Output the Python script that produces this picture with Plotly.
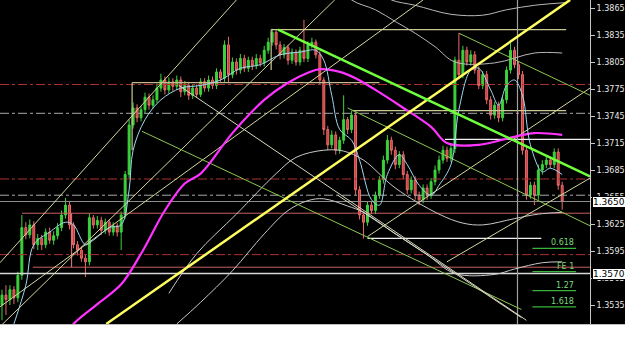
import plotly.graph_objects as go

# ---------------- candle data (bar index 0..141) ----------------
opens = [
 1.3535,1.3546,1.3541,1.3552,1.3543,1.3568,1.3621,1.3613,1.3624,1.3602,
 1.3609,1.3602,1.3616,1.3607,1.3612,1.3621,1.3635,1.3646,1.3624,1.3602,
 1.3596,1.3587,1.3583,1.3632,1.3624,1.3629,1.3618,1.3627,1.3616,1.3623,
 1.3616,1.3635,1.3680,1.3735,1.3754,1.3743,1.3752,1.3766,1.3757,1.3763,
 1.3776,1.3785,1.3774,1.3783,1.3778,1.3785,1.3772,1.3779,1.3768,1.3776,
 1.3769,1.3783,1.3776,1.3785,1.3779,1.3794,1.3787,1.3824,1.3791,1.3805,
 1.3796,1.3809,1.3798,1.3807,1.3801,1.3809,1.3804,1.3818,1.3827,1.3838,
 1.3824,1.3813,1.3821,1.3807,1.3816,1.3805,1.3818,1.3809,1.3824,1.3827,
 1.3813,1.3785,1.3730,1.3713,1.3724,1.3707,1.3718,1.3741,1.3730,1.3746,
 1.3663,1.3635,1.3627,1.3646,1.3640,1.3657,1.3674,1.3696,1.3718,1.3707,
 1.3691,1.3702,1.3680,1.3663,1.3674,1.3657,1.3652,1.3665,1.3657,1.3672,
 1.3685,1.3696,1.3707,1.3698,1.3709,1.3807,1.3791,1.3818,1.3805,1.3813,
 1.3796,1.3779,1.3791,1.3763,1.3746,1.3757,1.3743,1.3763,1.3796,1.3818,
 1.3802,1.3791,1.3707,1.3657,1.3668,1.3657,1.3685,1.3691,1.3696,1.3691,
 1.3705,1.3668]
highs = [
 1.3552,1.3557,1.3557,1.3556,1.3572,1.3635,1.3627,1.3630,1.3628,1.3614,
 1.3613,1.3620,1.3621,1.3617,1.3626,1.3640,1.3654,1.3650,1.3627,1.3606,
 1.3600,1.3591,1.3637,1.3635,1.3634,1.3633,1.3631,1.3630,1.3627,1.3626,
 1.3639,1.3684,1.3741,1.3760,1.3758,1.3756,1.3771,1.3770,1.3768,1.3781,
 1.3792,1.3789,1.3788,1.3787,1.3790,1.3789,1.3784,1.3783,1.3780,1.3780,
 1.3787,1.3787,1.3790,1.3789,1.3798,1.3797,1.3829,1.3833,1.3810,1.3809,
 1.3814,1.3813,1.3811,1.3811,1.3814,1.3813,1.3823,1.3832,1.3842,1.3841,
 1.3828,1.3825,1.3824,1.3820,1.3819,1.3822,1.3852,1.3828,1.3832,1.3830,
 1.3817,1.3788,1.3734,1.3729,1.3728,1.3722,1.3768,1.3744,1.3751,1.3749,
 1.3667,1.3639,1.3650,1.3650,1.3661,1.3678,1.3701,1.3724,1.3722,1.3711,
 1.3706,1.3706,1.3684,1.3678,1.3678,1.3661,1.3669,1.3669,1.3676,1.3690,
 1.3701,1.3712,1.3711,1.3713,1.3811,1.3837,1.3823,1.3822,1.3818,1.3817,
 1.3800,1.3795,1.3795,1.3767,1.3761,1.3761,1.3767,1.3800,1.3826,1.3822,
 1.3806,1.3795,1.3711,1.3672,1.3672,1.3691,1.3696,1.3701,1.3700,1.3709,
 1.3709,1.3672]
lows = [
 1.3518,1.3524,1.3535,1.3536,1.3538,1.3563,1.3608,1.3609,1.3597,1.3596,
 1.3596,1.3598,1.3603,1.3602,1.3608,1.3617,1.3631,1.3619,1.3598,1.3590,
 1.3583,1.3566,1.3579,1.3620,1.3620,1.3613,1.3614,1.3612,1.3612,1.3611,
 1.3596,1.3631,1.3676,1.3731,1.3738,1.3739,1.3748,1.3752,1.3753,1.3759,
 1.3772,1.3769,1.3770,1.3773,1.3774,1.3766,1.3768,1.3763,1.3764,1.3765,
 1.3766,1.3772,1.3772,1.3775,1.3775,1.3783,1.3783,1.3782,1.3787,1.3791,
 1.3792,1.3794,1.3794,1.3796,1.3797,1.3800,1.3800,1.3814,1.3823,1.3819,
 1.3808,1.3809,1.3802,1.3803,1.3801,1.3801,1.3805,1.3805,1.3820,1.3809,
 1.3780,1.3724,1.3707,1.3709,1.3702,1.3703,1.3714,1.3725,1.3726,1.3657,
 1.3630,1.3609,1.3623,1.3636,1.3636,1.3653,1.3670,1.3692,1.3702,1.3686,
 1.3687,1.3675,1.3658,1.3659,1.3652,1.3646,1.3648,1.3652,1.3653,1.3668,
 1.3681,1.3692,1.3694,1.3694,1.3704,1.3786,1.3787,1.3801,1.3801,1.3792,
 1.3775,1.3775,1.3758,1.3741,1.3742,1.3738,1.3739,1.3759,1.3792,1.3798,
 1.3786,1.3702,1.3652,1.3653,1.3646,1.3652,1.3680,1.3687,1.3687,1.3687,
 1.3663,1.3641]
closes = [
 1.3546,1.3541,1.3552,1.3543,1.3568,1.3621,1.3613,1.3624,1.3602,1.3609,
 1.3602,1.3616,1.3607,1.3612,1.3621,1.3635,1.3646,1.3624,1.3602,1.3596,
 1.3587,1.3583,1.3632,1.3624,1.3629,1.3618,1.3627,1.3616,1.3623,1.3616,
 1.3635,1.3680,1.3735,1.3754,1.3743,1.3752,1.3766,1.3757,1.3763,1.3776,
 1.3785,1.3774,1.3783,1.3778,1.3785,1.3772,1.3779,1.3768,1.3776,1.3769,
 1.3783,1.3776,1.3785,1.3779,1.3794,1.3787,1.3824,1.3791,1.3805,1.3796,
 1.3809,1.3798,1.3807,1.3801,1.3809,1.3804,1.3818,1.3827,1.3838,1.3824,
 1.3813,1.3821,1.3807,1.3816,1.3805,1.3818,1.3809,1.3824,1.3827,1.3813,
 1.3785,1.3730,1.3713,1.3724,1.3707,1.3718,1.3741,1.3730,1.3746,1.3663,
 1.3635,1.3627,1.3646,1.3640,1.3657,1.3674,1.3696,1.3718,1.3707,1.3691,
 1.3702,1.3680,1.3663,1.3674,1.3657,1.3652,1.3665,1.3657,1.3672,1.3685,
 1.3696,1.3707,1.3698,1.3709,1.3807,1.3791,1.3818,1.3805,1.3813,1.3796,
 1.3779,1.3791,1.3763,1.3746,1.3757,1.3743,1.3763,1.3796,1.3818,1.3802,
 1.3791,1.3707,1.3657,1.3668,1.3657,1.3685,1.3691,1.3696,1.3691,1.3705,
 1.3668,1.3650]
bars = list(range(len(closes)))

# ---------------- indicator curves ----------------
slow_ma_x = [14, 18, 24, 30, 35, 41, 46, 50, 58, 66, 72, 77, 80, 85, 89, 94, 100, 108, 112, 120, 129, 134, 141]
slow_ma_p = [1.3490, 1.3514, 1.3536, 1.3558, 1.3592, 1.3640, 1.3670, 1.3681, 1.3726, 1.3763, 1.3782, 1.3793,
             1.3797, 1.3794, 1.3787, 1.3774, 1.3757, 1.3733, 1.3715, 1.3713, 1.3722, 1.3726, 1.3724]

fast_ma_x = [3, 6, 8, 12, 16, 18, 21, 23, 27, 30, 32, 33, 36, 40, 45, 50, 55, 60, 65, 70, 75, 79, 81, 83,
             85, 88, 90, 93, 95, 97, 100, 102, 105, 108, 110, 113, 115, 118, 120, 123, 125, 127, 129, 131,
             133, 136, 138, 141]
fast_ma_p = [1.3514, 1.3557, 1.3602, 1.3616, 1.3627, 1.3624, 1.3602, 1.3607, 1.3621, 1.3624, 1.3663, 1.3707,
             1.3741, 1.3763, 1.3776, 1.3779, 1.3785, 1.3798, 1.3802, 1.3813, 1.3816, 1.3818, 1.3807, 1.3768,
             1.3730, 1.3718, 1.3696, 1.3652, 1.3646, 1.3680, 1.3702, 1.3691, 1.3668, 1.3657, 1.3668, 1.3691,
             1.3752, 1.3796, 1.3798, 1.3774, 1.3757, 1.3779, 1.3785, 1.3768, 1.3713, 1.3683, 1.3687, 1.3680]

band_a_x = [94, 98, 104, 113, 121, 127, 134, 142]
band_a_p = [1.3885, 1.3874, 1.3868, 1.3858, 1.3857, 1.3863, 1.3868, 1.3871]
band_b_x = [85, 88, 94, 99, 104, 109, 114, 124, 134, 141]
band_b_p = [1.3890, 1.3874, 1.3863, 1.3850, 1.3837, 1.3822, 1.3805, 1.3804, 1.3815, 1.3815]
band_c_x = [42, 49, 59, 69, 74, 81, 86, 91, 99, 110, 116, 121, 129, 135, 141]
band_c_p = [1.3548, 1.3592, 1.3636, 1.3681, 1.3699, 1.3707, 1.3706, 1.3696, 1.3665, 1.3636, 1.3626, 1.3624,
            1.3631, 1.3636, 1.3638]
band_d_x = [44, 50, 58, 66, 72, 77, 81, 87, 91, 99, 107, 114, 124, 129, 136, 141]
band_d_p = [1.3514, 1.3538, 1.3573, 1.3614, 1.3640, 1.3651, 1.3653, 1.3645, 1.3638, 1.3614, 1.3591, 1.3570,
            1.3569, 1.3575, 1.3582, 1.3583]

# ---------------- trend lines (bar index, price) ----------------
yellow_x = [26.25, 143.0]
yellow_p = [1.3514, 1.3874]
green_x = [69.5, 148.0]
green_p = [1.3841, 1.3678]
pale_up = [  # x0, p0, x1, p1
    (-0.5, 1.3582, 59.0, 1.3874),
    (-0.5, 1.3511, 83.75, 1.3874),
    (-0.5, 1.3533, 106.0, 1.3874),
    (92.0, 1.3611, 148.0, 1.3776),
    (112.0, 1.3583, 148.0, 1.3676),
]
green_down = [
    (115.0, 1.3837, 148.0, 1.3768),
    (35.25, 1.3728, 130.75, 1.3530),
    (87.0, 1.3754, 148.0, 1.3623),
]
pale_down = [
    (44.5, 1.3779, 132.0, 1.3518),
    (84.5, 1.3657, 130.75, 1.3521),
]

# ---------------- horizontal levels ----------------
red_dashdot = [1.3780, 1.3675, 1.3591]
gray_dashdot = [1.3748, 1.3657]
bid_price = 1.3650
salmon_levels = [(5.0, 1.3637), (7.75, 1.3577)]   # start bar, price
white_full = [1.3570]
segments = [  # x0, x1, price, colour
    (92.0, 135.75, 1.3609, "#f0f0f0"),
    (111.5, 148.0, 1.3719, "#f0f0f0"),
    (67.75, 142.0, 1.3841, "#c8c890"),
    (32.75, 95.0, 1.3782, "#c8b890"),
    (88.25, 142.0, 1.3751, "#c8c890"),
]
verticals = [  # x, p0, p1, colour
    (32.75, 1.3782, 1.3707, "#c8c890"),
    (67.75, 1.3841, 1.3796, "#c8c890"),
    (17.5, 1.3637, 1.3577, "#d07070"),
    (129.75, 1.3500, 1.3900, "#a0a0a0"),
]
fib_labels = ["0.618", "FE 1", "1.27", "1.618"]
fib_prices = [1.3598, 1.3572, 1.3551, 1.3533]
fib_x = [133.5, 144.5]

tick_vals = [1.3865, 1.3835, 1.3805, 1.3775, 1.3745, 1.3715, 1.3685, 1.3655, 1.3625, 1.3595, 1.3565, 1.3535]
tick_text = ["1.3865", "1.3835", "1.3805", "1.3775", "1.3745", "1.3715", "1.3685", "1.3655", "1.3625",
             "1.3595", "1.3565", "1.3535"]
box_prices = [1.3650, 1.3570]

Y_MIN, Y_MAX = 1.35139, 1.38739
X_MIN, X_MAX = -0.5, 148.0

fig = go.Figure()

def seg(x, y, color, width=1, dash="solid", shape="linear"):
    fig.add_trace(go.Scatter(x=x, y=y, mode="lines", hoverinfo="skip", showlegend=False,
                             line=dict(color=color, width=width, dash=dash, shape=shape)))

# horizontal levels
for p in red_dashdot:
    seg([X_MIN, X_MAX], [p, p], "#b03030", 1, "dashdot")
for p in gray_dashdot:
    seg([X_MIN, X_MAX], [p, p], "#a8a8a8", 1, "dashdot")
seg([X_MIN, X_MAX], [bid_price, bid_price], "#8c8c8c", 1)
for x0, p in salmon_levels:
    seg([x0, X_MAX], [p, p], "#c86060", 1)
for p in white_full:
    seg([X_MIN, X_MAX], [p, p], "#d8d8d8", 1.5)
for x0, x1, p, c in segments:
    seg([x0, x1], [p, p], c, 1.2)
for x, p0, p1, c in verticals:
    seg([x, x], [p0, p1], c, 1.2)

# bands
seg(band_a_x, band_a_p, "#b8b8b8", 1, shape="spline")
seg(band_b_x, band_b_p, "#b8b8b8", 1, shape="spline")
seg(band_c_x, band_c_p, "#c8c8c8", 1, shape="spline")
seg(band_d_x, band_d_p, "#c8c8c8", 1, shape="spline")

# thin trend lines
for x0, p0, x1, p1 in pale_up:
    seg([x0, x1], [p0, p1], "#d6d6a0", 1)
for x0, p0, x1, p1 in green_down:
    seg([x0, x1], [p0, p1], "#8cc850", 1)
for x0, p0, x1, p1 in pale_down:
    seg([x0, x1], [p0, p1], "#d8d8c0", 1)

# candles
fig.add_trace(go.Candlestick(
    x=bars, open=opens, high=highs, low=lows, close=closes,
    increasing=dict(line=dict(color="#3cd23c", width=1), fillcolor="#3cd23c"),
    decreasing=dict(line=dict(color="#e86a6a", width=1), fillcolor="#c83c3c"),
    whiskerwidth=0, showlegend=False, hoverinfo="skip"))

# moving averages
seg(slow_ma_x, slow_ma_p, "#ff33ff", 2.2, shape="spline")
seg(fast_ma_x, fast_ma_p, "#9fd8f0", 1, shape="spline")

# thick trend lines
seg(yellow_x, yellow_p, "#ffff60", 2.5)
seg(green_x, green_p, "#70ff3c", 2.5)

# fib markers
for lab, p in zip(fib_labels, fib_prices):
    seg(fib_x, [p, p], "#3cb43c", 1.2)
    fig.add_annotation(x=fib_x[1], y=p, xref="x", yref="y", text=lab, showarrow=False,
                       xanchor="right", yanchor="bottom", yshift=-1,
                       font=dict(family="DejaVu Sans", size=8, color="#7cd87c"))

# price boxes
for p in box_prices:
    fig.add_annotation(x=1, y=p, xref="paper", yref="y", text=f"{p:.4f}", showarrow=False,
                       xanchor="left", yanchor="middle", xshift=2, bgcolor="#ffffff", borderpad=0,
                       bordercolor="#000000", borderwidth=1,
                       font=dict(family="DejaVu Sans", size=9, color="#000000"))

fig.update_layout(
    width=625, height=348,
    margin=dict(l=0, r=31, t=0, b=24),
    paper_bgcolor="#000000", plot_bgcolor="#000000",
    showlegend=False,
    xaxis=dict(range=[X_MIN, X_MAX], visible=False, rangeslider=dict(visible=False), fixedrange=True),
    yaxis=dict(range=[Y_MIN, Y_MAX], side="right", tickvals=tick_vals, ticktext=tick_text,
               ticks="outside", ticklen=4, tickcolor="#c8c8c8", showline=True, linecolor="#c8c8c8",
               linewidth=1, showgrid=False, zeroline=False,
               tickfont=dict(family="DejaVu Sans", size=8, color="#e8e8e8")),
    shapes=[dict(type="rect", xref="paper", yref="paper", x0=-0.01, x1=1.1, y0=-24 / 324, y1=-0.001,
                 fillcolor="#ffffff", line=dict(width=0), layer="below")],
)

fig.write_html("out.html")
